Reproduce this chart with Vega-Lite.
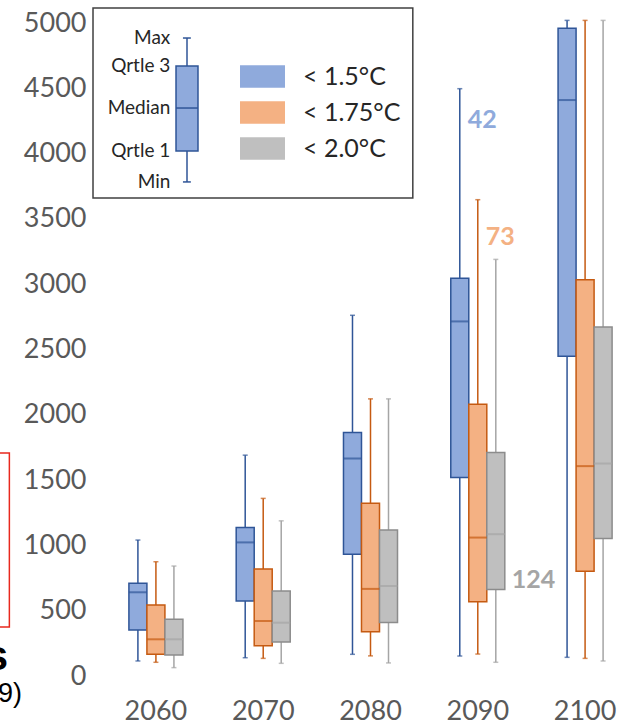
{
  "$schema": "https://vega.github.io/schema/vega-lite/v6.json",
  "width": 526,
  "height": 653,
  "autosize": "none",
  "padding": {"left": 103, "top": 23, "right": 0, "bottom": 49},
  "background": "white",
  "config": {
    "view": {"stroke": null},
    "font": "Lato",
    "axisY": {"labelFontSize": 27, "labelColor": "#595959", "labelPadding": 17, "domain": false, "ticks": false, "gridColor": "#d9d9d9", "gridWidth": 1.5, "tickCount": 10, "labelFont": "Lato", "format": "d"},
    "axisX": {"labelFontSize": 27, "labelColor": "#595959", "labelPadding": 22, "domain": false, "ticks": false, "grid": false, "labelAngle": 0, "labelFont": "Lato"}
  },
  "datasets": {
    "boxes": [
      {"year": "2060", "series": "< 1.5°C", "min": 115, "q1": 352, "median": 641, "q3": 710, "max": 1041},
      {"year": "2060", "series": "< 1.75°C", "min": 105, "q1": 166, "median": 281, "q3": 544, "max": 875},
      {"year": "2060", "series": "< 2.0°C", "min": 64, "q1": 161, "median": 281, "q3": 434, "max": 842},
      {"year": "2070", "series": "< 1.5°C", "min": 140, "q1": 574, "median": 1023, "q3": 1138, "max": 1691},
      {"year": "2070", "series": "< 1.75°C", "min": 135, "q1": 232, "median": 421, "q3": 819, "max": 1360},
      {"year": "2070", "series": "< 2.0°C", "min": 97, "q1": 260, "median": 408, "q3": 650, "max": 1188},
      {"year": "2080", "series": "< 1.5°C", "min": 166, "q1": 932, "median": 1665, "q3": 1865, "max": 2762},
      {"year": "2080", "series": "< 1.75°C", "min": 154, "q1": 339, "median": 667, "q3": 1323, "max": 2122},
      {"year": "2080", "series": "< 2.0°C", "min": 100, "q1": 410, "median": 689, "q3": 1118, "max": 2122},
      {"year": "2090", "series": "< 1.5°C", "min": 153, "q1": 1520, "median": 2715, "q3": 3045, "max": 4497},
      {"year": "2090", "series": "< 1.75°C", "min": 168, "q1": 568, "median": 1060, "q3": 2080, "max": 3647},
      {"year": "2090", "series": "< 2.0°C", "min": 105, "q1": 663, "median": 1086, "q3": 1711, "max": 3190},
      {"year": "2100", "series": "< 1.5°C", "min": 143, "q1": 2449, "median": 4410, "q3": 4960, "max": 5020},
      {"year": "2100", "series": "< 1.75°C", "min": 135, "q1": 803, "median": 1607, "q3": 3035, "max": 5020},
      {"year": "2100", "series": "< 2.0°C", "min": 115, "q1": 1053, "median": 1627, "q3": 2673, "max": 5020}
    ],
    "notes": [
      {"year": "2090", "series": "< 1.5°C", "value": 4254, "label": "42"},
      {"year": "2090", "series": "< 1.75°C", "value": 3359, "label": "73"},
      {"year": "2090", "series": "< 2.0°C", "value": 735, "label": "124"}
    ],
    "keystats": [
      {"label": "Max", "v": 4885},
      {"label": "Qrtle 3", "v": 4671},
      {"label": "Median", "v": 4349},
      {"label": "Qrtle 1", "v": 4020},
      {"label": "Min", "v": 3783}
    ],
    "keybox": [
      {"min": 3783, "q1": 4020, "median": 4349, "q3": 4671, "max": 4885}
    ],
    "one": [{}]
  },
  "resolve": {"scale": {"x": "independent"}},
  "layer": [
    {
      "layer": [
        {
          "data": {"name": "one"},
          "mark": {"type": "rect", "fill": "white", "stroke": "#404040", "strokeWidth": 1.5},
          "encoding": {
            "x": {"datum": -0.019, "type": "quantitative", "scale": {"domain": [0, 1], "nice": false, "zero": false}, "axis": null},
            "x2": {"datum": 0.589},
            "y": {"datum": 5115, "type": "quantitative", "scale": {"domain": [0, 5000], "nice": false}},
            "y2": {"datum": 3660}
          }
        },
        {
          "data": {"name": "one"},
          "mark": {"type": "rect", "fill": null, "stroke": "#e8281e", "strokeWidth": 1.5},
          "encoding": {
            "x": {"datum": -0.25, "type": "quantitative", "scale": {"domain": [0, 1], "nice": false, "zero": false}, "axis": null},
            "x2": {"datum": -0.178},
            "y": {"datum": 1708, "type": "quantitative", "scale": {"domain": [0, 5000], "nice": false}},
            "y2": {"datum": 375}
          }
        },
        {
          "data": {"name": "one"},
          "mark": {"type": "text", "text": "s", "align": "right", "baseline": "alphabetic", "fontSize": 42, "fontWeight": "bold", "font": "Liberation Sans", "fill": "#000000"},
          "encoding": {
            "x": {"datum": -0.1806, "type": "quantitative", "scale": {"domain": [0, 1], "nice": false, "zero": false}, "axis": null},
            "y": {"datum": 46, "type": "quantitative", "scale": {"domain": [0, 5000], "nice": false}}
          }
        },
        {
          "data": {"name": "one"},
          "mark": {"type": "text", "text": "9)", "align": "right", "baseline": "alphabetic", "fontSize": 27, "font": "Liberation Sans", "fill": "#000000"},
          "encoding": {
            "x": {"datum": -0.154, "type": "quantitative", "scale": {"domain": [0, 1], "nice": false, "zero": false}, "axis": null},
            "y": {"datum": -199, "type": "quantitative", "scale": {"domain": [0, 5000], "nice": false}}
          }
        },
        {
          "data": {"name": "keybox"},
          "mark": {"type": "rule", "stroke": "#2f5597", "strokeWidth": 1.5},
          "encoding": {
            "x": {"datum": 0.1597, "type": "quantitative", "scale": {"domain": [0, 1], "nice": false, "zero": false}, "axis": null},
            "y": {"field": "min", "type": "quantitative", "title": null, "scale": {"domain": [0, 5000], "nice": false}},
            "y2": {"field": "max"}
          }
        },
        {
          "data": {"name": "keybox"},
          "mark": {"type": "rule", "stroke": "#2f5597", "strokeWidth": 1.5},
          "encoding": {
            "x": {"datum": 0.152, "type": "quantitative", "scale": {"domain": [0, 1], "nice": false, "zero": false}, "axis": null},
            "x2": {"datum": 0.167},
            "y": {"field": "max", "type": "quantitative", "title": null, "scale": {"domain": [0, 5000], "nice": false}}
          }
        },
        {
          "data": {"name": "keybox"},
          "mark": {"type": "rule", "stroke": "#2f5597", "strokeWidth": 1.5},
          "encoding": {
            "x": {"datum": 0.152, "type": "quantitative", "scale": {"domain": [0, 1], "nice": false, "zero": false}, "axis": null},
            "x2": {"datum": 0.167},
            "y": {"field": "min", "type": "quantitative", "title": null, "scale": {"domain": [0, 5000], "nice": false}}
          }
        },
        {
          "data": {"name": "keybox"},
          "mark": {"type": "rect", "fill": "#8faadc", "stroke": "#2f5597", "strokeWidth": 1.5},
          "encoding": {
            "x": {"datum": 0.1388, "type": "quantitative", "scale": {"domain": [0, 1], "nice": false, "zero": false}, "axis": null},
            "x2": {"datum": 0.1806},
            "y": {"field": "q1", "type": "quantitative", "title": null, "scale": {"domain": [0, 5000], "nice": false}},
            "y2": {"field": "q3"}
          }
        },
        {
          "data": {"name": "keybox"},
          "mark": {"type": "rule", "stroke": "#2f5597", "strokeWidth": 1.5},
          "encoding": {
            "x": {"datum": 0.1388, "type": "quantitative", "scale": {"domain": [0, 1], "nice": false, "zero": false}, "axis": null},
            "x2": {"datum": 0.1806},
            "y": {"field": "median", "type": "quantitative", "title": null, "scale": {"domain": [0, 5000], "nice": false}}
          }
        },
        {
          "data": {"name": "keystats"},
          "mark": {"type": "text", "align": "right", "baseline": "middle", "fontSize": 19, "font": "Lato", "fill": "#262626"},
          "encoding": {
            "x": {"datum": 0.128, "type": "quantitative", "scale": {"domain": [0, 1], "nice": false, "zero": false}, "axis": null},
            "y": {"field": "v", "type": "quantitative", "title": null, "scale": {"domain": [0, 5000], "nice": false}},
            "text": {"field": "label"}
          }
        }
      ]
    },
    {
      "encoding": {
        "x": {"field": "year", "type": "nominal", "title": null, "scale": {"range": [10, 525], "paddingInner": 0.2, "paddingOuter": 0}},
        "xOffset": {"field": "series", "type": "nominal", "scale": {"domain": ["< 1.5°C", "< 1.75°C", "< 2.0°C"], "paddingInner": 0, "paddingOuter": 0.883}}
      },
      "layer": [
        {
          "data": {"name": "boxes"},
          "mark": {"type": "rule", "strokeWidth": 1.5},
          "encoding": {
            "y": {"field": "min", "type": "quantitative", "title": null, "scale": {"domain": [0, 5000], "nice": false, "zero": true}},
            "y2": {"field": "max"},
            "color": {"field": "series", "type": "nominal", "scale": {"domain": ["< 1.5°C", "< 1.75°C", "< 2.0°C"], "range": ["#2f5597", "#c55a11", "#a5a5a5"]}, "legend": null}
          }
        },
        {
          "data": {"name": "boxes"},
          "mark": {"type": "tick", "size": 5, "thickness": 1.5},
          "encoding": {
            "y": {"field": "min", "type": "quantitative", "title": null, "scale": {"domain": [0, 5000], "nice": false}},
            "color": {"field": "series", "type": "nominal", "legend": null}
          }
        },
        {
          "data": {"name": "boxes"},
          "mark": {"type": "tick", "size": 5, "thickness": 1.5},
          "encoding": {
            "y": {"field": "max", "type": "quantitative", "title": null, "scale": {"domain": [0, 5000], "nice": false}},
            "color": {"field": "series", "type": "nominal", "legend": null}
          }
        },
        {
          "data": {"name": "boxes"},
          "mark": {"type": "bar", "strokeWidth": 1.5},
          "encoding": {
            "y": {"field": "q1", "type": "quantitative", "title": null, "scale": {"domain": [0, 5000], "nice": false}},
            "y2": {"field": "q3"},
            "fill": {"field": "series", "type": "nominal", "scale": {"range": ["#8faadc", "#f4b183", "#bfbfbf"]},
              "legend": {"orient": "none", "legendX": 137, "legendY": 31, "zindex": 5, "title": null, "symbolType": "M-1,-0.5H1V0.5H-1Z", "symbolSize": 2025, "symbolStrokeWidth": 0, "symbolOpacity": 1, "labelFontSize": 25, "labelFont": "Lato", "labelColor": "#262626", "labelOffset": 18, "rowPadding": -14, "padding": 0, "labelLimit": 300}},
            "stroke": {"field": "series", "type": "nominal", "scale": {"domain": ["< 1.5°C", "< 1.75°C", "< 2.0°C"], "range": ["#2f5597", "#c55a11", "#8c8c8c"]}, "legend": null}
          }
        },
        {
          "data": {"name": "boxes"},
          "mark": {"type": "tick", "size": 18, "thickness": 2},
          "encoding": {
            "y": {"field": "median", "type": "quantitative", "title": null, "scale": {"domain": [0, 5000], "nice": false}},
            "color": {"field": "series", "type": "nominal", "legend": null}
          }
        },
        {
          "data": {"name": "notes"},
          "transform": [{"filter": "datum.label != '124'"}],
          "mark": {"type": "text", "align": "left", "baseline": "middle", "dx": 8, "fontSize": 25, "fontWeight": "bold", "font": "Lato"},
          "encoding": {
            "y": {"field": "value", "type": "quantitative", "title": null, "scale": {"domain": [0, 5000], "nice": false}},
            "text": {"field": "label"},
            "fill": {"field": "series", "type": "nominal"}
          }
        },
        {
          "data": {"name": "notes"},
          "transform": [{"filter": "datum.label == '124'"}],
          "mark": {"type": "text", "align": "left", "baseline": "middle", "dx": 16, "fontSize": 25, "fontWeight": "bold", "font": "Lato", "fill": "#a5a5a5"},
          "encoding": {
            "y": {"field": "value", "type": "quantitative", "title": null, "scale": {"domain": [0, 5000], "nice": false}},
            "text": {"field": "label"}
          }
        }
      ]
    }
  ]
}
